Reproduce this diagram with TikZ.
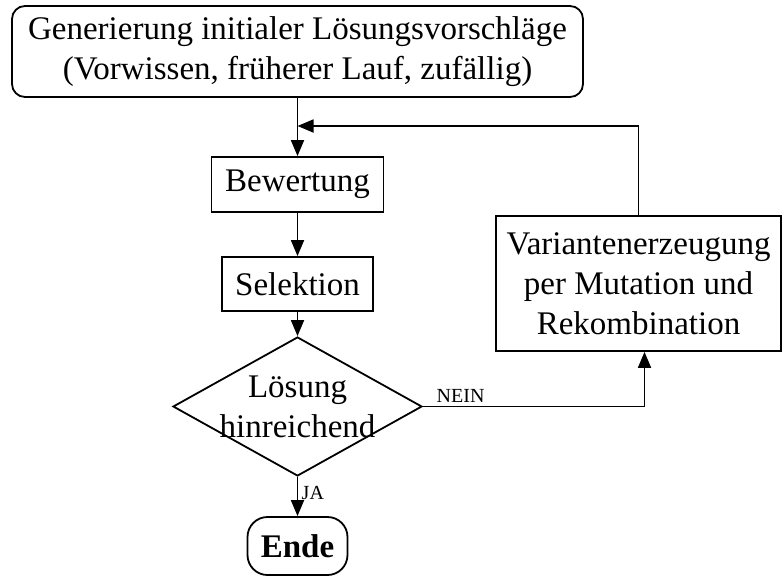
\documentclass[tikz,border=0pt]{standalone}
\usepackage{fontspec}
\setmainfont{Liberation Serif}
\usetikzlibrary{shapes.geometric,arrows.meta}
\begin{document}
\begin{tikzpicture}[x=1pt,y=-1pt,
  line width=1.8pt,
  bigtext/.style={font=\fontsize{33}{40}\selectfont},
  smalltext/.style={font=\fontsize{20}{24}\selectfont},
  box/.style={draw, rectangle, inner sep=0pt, align=center, bigtext},
  arr/.style={-{Triangle[length=16pt,width=13pt]}}
]
\useasboundingbox (0,0) rectangle (782,576);
\node[box, rounded corners=13pt, minimum width=571pt, minimum height=91pt] (init) at (297.5,51.5)
  {Generierung initialer Lösungsvorschläge\\(Vorwissen, früherer Lauf, zufällig)};
\node[box, minimum width=172pt, minimum height=55pt] (bew) at (297.5,184.5) {Bewertung};
\node[box, minimum width=151pt, minimum height=54pt] (sel) at (297.5,284) {Selektion};
\node[draw, diamond, minimum width=249pt, minimum height=139pt, inner sep=0pt] (dec) at (297.5,406.5) {};
\node[bigtext, align=center, inner sep=0pt] (dectext) at (297.5,407) {Lösung\\hinreichend};
\node[box, rounded corners=20pt, minimum width=100pt, minimum height=58pt, font=\fontsize{33}{40}\selectfont\bfseries] (ende) at (297.5,546) {Ende};
\node[box, minimum width=285pt, minimum height=135pt] (var) at (638.5,283.5)
  {Variantenerzeugung\\per Mutation und\\Rekombination};
\coordinate (join) at (297.5,126);
\draw[arr] (init) -- (bew);
\draw[arr] (bew) -- (sel);
\draw[arr] (sel) -- (dec);
\draw[arr] (dec) -- node[smalltext, right, pos=0.4] (ja) {JA} (ende);
\draw[arr] (dec.east) -- node[smalltext, above, pos=0.17] (nein) {NEIN} ([xshift=6pt]dec.east -| var.south) -- ([xshift=6pt]var.south);
\draw[arr] (var.north) |- (join);
\end{tikzpicture}
\end{document}
